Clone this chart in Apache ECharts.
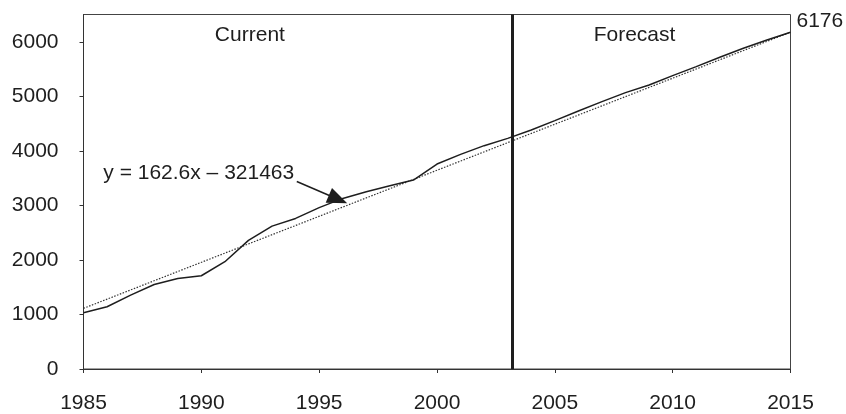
<!DOCTYPE html>
<html>
<head>
<meta charset="utf-8">
<script src="https://cdn.jsdelivr.net/npm/echarts@6/dist/echarts.min.js"></script>
<style>
  html, body { margin: 0; padding: 0; background: #fff; }
  #chart { width: 846px; height: 414px; }
</style>
</head>
<body>
<div id="chart"></div>
<script>
// years and actual values
var years = [1985, 1986, 1987, 1988, 1989, 1990, 1991, 1992, 1993, 1994, 1995,
  1996, 1997, 1998, 1999, 2000, 2001, 2002, 2003, 2004, 2005,
  2006, 2007, 2008, 2009, 2010, 2011, 2012, 2013, 2014, 2015]
var actual = [1030, 1141, 1354, 1550, 1660, 1710, 1967, 2358, 2620, 2761, 2958,
  3128, 3251, 3361, 3465, 3758, 3936, 4095, 4229, 4382, 4554,
  4730, 4903, 5068, 5207, 5380, 5545, 5716, 5881, 6033, 6176]

// linear trend end points
var trendYears = [1985, 2015]
var trendValues = [1112, 6176]
var trendText = 'y = 162.6x \u2013 321463'

var xTicks = [1985, 1990, 1995, 2000, 2005, 2010, 2015]
var yTicks = [0, 1000, 2000, 3000, 4000, 5000, 6000]

var splitYear = 2003.2
var arrowFrom = [1994.05, 3437]
var arrowTo = [1995.8, 3112]
var textAt = [1985.84, 3589]
var currentAt = [1992.06, 6120]
var forecastAt = [2008.38, 6120]

var font = 'Liberation Sans, Arial, sans-serif'
var ink = '#1e1e1e'

var chart = echarts.init(document.getElementById('chart'))
chart.setOption({
  animation: false,
  backgroundColor: '#fff',
  grid: {
    left: 83.5,
    right: 55.5,
    top: 14.5,
    bottom: 43.5,
    show: true,
    borderColor: '#444',
    borderWidth: 1
  },
  xAxis: {
    type: 'value',
    min: 1985,
    max: 2015,
    interval: 5,
    axisLine: { lineStyle: { color: '#333', width: 1 } },
    axisTick: { show: true, length: 4, customValues: xTicks, lineStyle: { color: '#333' } },
    axisLabel: {
      customValues: xTicks,
      color: ink,
      fontFamily: font,
      fontSize: 21,
      margin: 24,
      formatter: function (v) { return String(v) }
    },
    splitLine: { show: false }
  },
  yAxis: {
    type: 'value',
    min: 0,
    max: 6500,
    interval: 1000,
    axisLine: { show: true, lineStyle: { color: '#333', width: 1 } },
    axisTick: { show: true, length: 4, customValues: yTicks, lineStyle: { color: '#333' } },
    axisLabel: {
      customValues: yTicks,
      color: ink,
      fontFamily: font,
      fontSize: 21,
      margin: 25,
      formatter: function (v) { return String(v) }
    },
    splitLine: { show: false }
  },
  series: [
    {
      name: 'Actual',
      type: 'line',
      data: years.map(function (y, i) { return [y, actual[i]] }),
      symbol: 'none',
      lineStyle: { color: ink, width: 1.5 },
      z: 3,
      markLine: {
        silent: true,
        animation: false,
        label: { show: false },
        data: [
          [
            { xAxis: splitYear, yAxis: 0, symbol: 'none', lineStyle: { width: 3 } },
            { xAxis: splitYear, yAxis: 6500, symbol: 'none' }
          ],
          [
            { coord: arrowFrom, symbol: 'none' },
            { coord: arrowTo, symbol: 'triangle', symbolSize: [16, 20] }
          ]
        ],
        lineStyle: { color: ink, type: 'solid', width: 1.5 }
      },
      markPoint: {
        silent: true,
        symbolSize: 0,
        label: {
          show: true,
          color: ink,
          fontFamily: font,
          fontSize: 21
        },
        data: [
          { coord: textAt, label: { position: 'right', distance: 0, formatter: trendText } },
          { coord: currentAt, label: { position: 'inside', formatter: 'Current' } },
          { coord: forecastAt, label: { position: 'inside', formatter: 'Forecast' } }
        ]
      }
    },
    {
      name: 'Trend',
      type: 'line',
      data: trendYears.map(function (y, i) { return [y, trendValues[i]] }),
      symbol: 'none',
      lineStyle: { color: '#333', width: 1.2, type: [1.5, 1.5] },
      z: 2,
      endLabel: {
        show: true,
        color: ink,
        fontFamily: font,
        fontSize: 21,
        distance: 6,
        offset: [0, -11],
        formatter: function (p) { return String(p.value[1]) }
      }
    }
  ]
})
</script>
</body>
</html>
